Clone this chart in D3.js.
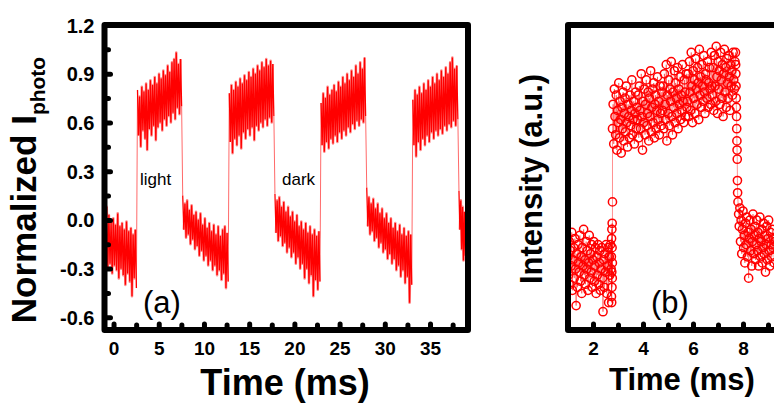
<!DOCTYPE html>
<html>
<head>
<meta charset="utf-8">
<script src="https://cdnjs.cloudflare.com/ajax/libs/d3/7.8.5/d3.min.js"></script>
<style>
  body { margin: 0; background: #fff; }
  svg { display: block; }
  text { font-family: "Liberation Sans", Arial, sans-serif; fill: #000; }
</style>
</head>
<body>
<div id="chart"></div>
<script>
// ---------- panel (a): photocurrent square wave ----------
// light / dark phases (ms) and the noise envelope
const phaseStart = [-1.0, 2.65, 7.65, 12.8, 17.85, 22.95, 28.0, 33.1, 38.2];
const phaseEnd   = [2.65, 7.65, 12.8, 17.85, 22.95, 28.0, 33.1, 38.2, 39.0];
const upperEnv = [
  [0.02, 0.08, 0.03, -0.01, 0.01, -0.03, 0.04, -0.04, -0.02, -0.06, -0.01, -0.07, -0.05, -0.09, -0.06],
  [0.80, 0.76, 0.82, 0.79, 0.84, 0.80, 0.86, 0.83, 0.88, 0.84, 0.90, 0.87, 0.92, 0.89, 0.95, 0.91, 0.97, 0.99, 1.03, 0.96, 0.99],
  [0.15, 0.10, 0.12, 0.06, 0.09, 0.03, 0.05, 0.00, 0.04, -0.03, 0.01, -0.05, -0.02, -0.07, -0.03, -0.09, -0.04, -0.10, -0.06, -0.04, -0.08],
  [0.78, 0.83, 0.80, 0.85, 0.82, 0.87, 0.84, 0.89, 0.86, 0.91, 0.88, 0.93, 0.90, 0.95, 0.92, 0.97, 0.94, 0.99, 0.95, 0.98, 0.96],
  [0.16, 0.12, 0.14, 0.08, 0.11, 0.05, 0.08, 0.02, 0.05, -0.01, 0.03, -0.04, -0.01, -0.06, -0.02, -0.08, -0.04, -0.09, -0.06, -0.10, -0.07],
  [0.72, 0.78, 0.75, 0.82, 0.77, 0.80, 0.83, 0.79, 0.85, 0.82, 0.88, 0.84, 0.90, 0.86, 0.92, 0.88, 0.95, 0.90, 0.97, 0.93, 1.00],
  [0.20, 0.14, 0.10, 0.13, 0.07, 0.10, 0.04, 0.07, 0.01, 0.04, -0.02, 0.01, -0.05, -0.02, -0.07, -0.03, -0.09, -0.05, -0.10, -0.07, -0.09],
  [0.74, 0.80, 0.77, 0.82, 0.78, 0.84, 0.80, 0.86, 0.82, 0.88, 0.84, 0.90, 0.86, 0.92, 0.88, 0.94, 0.90, 0.97, 1.00, 0.93, 0.95],
  [0.18, 0.12, 0.08, 0.05]
];
const lowerEnv = [
  [-0.25, -0.30, -0.27, -0.33, -0.28, -0.31, -0.36, -0.30, -0.34, -0.40, -0.33, -0.38, -0.47, -0.36, -0.42],
  [0.52, 0.45, 0.55, 0.50, 0.43, 0.56, 0.52, 0.58, 0.49, 0.57, 0.60, 0.55, 0.62, 0.58, 0.64, 0.60, 0.66, 0.62, 0.69, 0.65, 0.70],
  [-0.06, -0.11, -0.09, -0.15, -0.12, -0.18, -0.16, -0.22, -0.19, -0.25, -0.22, -0.28, -0.25, -0.31, -0.28, -0.34, -0.31, -0.37, -0.33, -0.42, -0.38],
  [0.48, 0.41, 0.50, 0.46, 0.52, 0.44, 0.54, 0.50, 0.56, 0.52, 0.57, 0.49, 0.58, 0.55, 0.60, 0.57, 0.62, 0.58, 0.63, 0.60, 0.64],
  [-0.08, -0.13, -0.10, -0.16, -0.14, -0.20, -0.17, -0.23, -0.20, -0.27, -0.23, -0.30, -0.27, -0.36, -0.30, -0.39, -0.34, -0.47, -0.37, -0.43, -0.38],
  [0.46, 0.42, 0.48, 0.44, 0.50, 0.47, 0.52, 0.48, 0.54, 0.50, 0.55, 0.52, 0.57, 0.54, 0.59, 0.56, 0.61, 0.58, 0.62, 0.60, 0.64],
  [-0.04, -0.09, -0.07, -0.13, -0.11, -0.17, -0.14, -0.20, -0.18, -0.24, -0.21, -0.27, -0.24, -0.31, -0.28, -0.35, -0.31, -0.39, -0.35, -0.51, -0.40],
  [0.46, 0.39, 0.48, 0.43, 0.50, 0.46, 0.52, 0.48, 0.54, 0.50, 0.55, 0.52, 0.56, 0.53, 0.58, 0.55, 0.59, 0.57, 0.61, 0.58, 0.62],
  [-0.06, -0.18, -0.25, -0.22]
];
const xTicksA = [0, 5, 10, 15, 20, 25, 30, 35];
const xMinorA = [2.5, 7.5, 12.5, 17.5, 22.5, 27.5, 32.5, 37.5];
const yTicksA = [-0.6, -0.3, 0.0, 0.3, 0.6, 0.9, 1.2];
const yMinorA = [-0.45, -0.15, 0.15, 0.45, 0.75, 1.05];

// ---------- panel (b): intensity, one on/off cycle ----------
const segStartB = [1.0, 2.735, 2.78, 7.70, 7.80];
const segStepB  = [0.025, 0.004, 0.025, 0.007, 0.025];
const lowOne = [0.24, 0.18, 0.29, 0.15, 0.26, 0.21, 0.32, 0.13, 0.23, 0.27, 0.17, 0.30, 0.20, 0.08, 0.25, 0.14, 0.28, 0.22, 0.19, 0.31,
  0.16, 0.24, 0.12, 0.27, 0.21, 0.33, 0.18, 0.23, 0.15, 0.29, 0.20, 0.26, 0.13, 0.22, 0.31, 0.17, 0.25, 0.19, 0.28, 0.14,
  0.23, 0.29, 0.16, 0.21, 0.27, 0.12, 0.24, 0.18, 0.28, 0.15, 0.22, 0.26, 0.13, 0.20, 0.27, 0.17, 0.06, 0.23, 0.14, 0.25,
  0.19, 0.28, 0.12, 0.21, 0.27, 0.09, 0.24, 0.18, 0.28, 0.20];
const riseVals = [0.24, 0.11, 0.30, 0.09, 0.19, 0.33, 0.14, 0.27, 0.35, 0.17, 0.22, 0.42];
const highOn = [
  0.66, 0.74, 0.61, 0.79, 0.70, 0.64, 0.77, 0.59, 0.72, 0.68, 0.81, 0.63, 0.75, 0.69, 0.58, 0.73, 0.66, 0.78, 0.62, 0.71,
  0.76, 0.65, 0.80, 0.68, 0.60, 0.74, 0.70, 0.63, 0.77, 0.67, 0.72, 0.82, 0.64, 0.69, 0.75, 0.61, 0.71, 0.78, 0.66, 0.73,
  0.69, 0.77, 0.63, 0.80, 0.72, 0.66, 0.84, 0.70, 0.59, 0.75, 0.68, 0.79, 0.64, 0.74, 0.82, 0.67, 0.71, 0.78, 0.62, 0.76,
  0.70, 0.85, 0.65, 0.73, 0.79, 0.68, 0.81, 0.63, 0.74, 0.77, 0.66, 0.72, 0.83, 0.69, 0.75, 0.64, 0.80, 0.71, 0.67, 0.78,
  0.72, 0.80, 0.66, 0.84, 0.74, 0.69, 0.87, 0.62, 0.77, 0.71, 0.82, 0.67, 0.79, 0.75, 0.88, 0.70, 0.64, 0.78, 0.73, 0.85,
  0.68, 0.81, 0.76, 0.71, 0.86, 0.66, 0.79, 0.74, 0.83, 0.69, 0.77, 0.72, 0.87, 0.75, 0.68, 0.82, 0.78, 0.70, 0.84, 0.73,
  0.75, 0.84, 0.70, 0.88, 0.78, 0.72, 0.91, 0.80, 0.68, 0.85, 0.76, 0.82, 0.71, 0.89, 0.79, 0.74, 0.86, 0.81, 0.69, 0.92,
  0.77, 0.83, 0.73, 0.87, 0.80, 0.75, 0.90, 0.78, 0.71, 0.84, 0.82, 0.76, 0.88, 0.73, 0.81, 0.86, 0.79, 0.74, 0.91, 0.80,
  0.77, 0.86, 0.72, 0.90, 0.80, 0.75, 0.93, 0.83, 0.71, 0.88, 0.79, 0.85, 0.74, 0.91, 0.82, 0.76, 0.87, 0.70, 0.84, 0.92,
  0.78, 0.86, 0.73, 0.89, 0.81, 0.76, 0.90, 0.83, 0.72, 0.87, 0.80, 0.85, 0.77, 0.91, 0.82, 0.79, 0.88];
const fallVals = [0.91, 0.87, 0.84, 0.80, 0.76, 0.73, 0.70, 0.66, 0.62, 0.59, 0.56, 0.49, 0.45];
const lowTwo = [0.42, 0.38, 0.34, 0.40, 0.29, 0.36, 0.25, 0.33, 0.39, 0.27, 0.31, 0.22, 0.35, 0.28, 0.37, 0.24, 0.32, 0.17, 0.30, 0.36,
  0.26, 0.33, 0.21, 0.29, 0.38, 0.25, 0.31, 0.34, 0.23, 0.28, 0.36, 0.26, 0.32, 0.21, 0.30, 0.37, 0.24, 0.29, 0.33, 0.22,
  0.27, 0.35, 0.25, 0.31, 0.19, 0.28, 0.34, 0.23, 0.30, 0.36, 0.26, 0.21, 0.32, 0.28, 0.24, 0.33, 0.27, 0.30, 0.22, 0.29];
const xTicksB = [2, 4, 6, 8];
const xMinorB = [1, 3, 5, 7, 9];

const width = 774, height = 403;
const red = "#ff0000";

const svg = d3.select("#chart").append("svg")
  .attr("width", width)
  .attr("height", height);

// helper for the thick Origin-style ticks (round "dots" pointing inward)
function styleTicks(g, w) {
  g.select(".domain").remove();
  g.selectAll(".tick line").attr("stroke", "#000").attr("stroke-width", w).attr("stroke-linecap", "round");
  g.selectAll(".tick text").attr("font-weight", "bold");
}

// ===== panel (a) =====
const xA = d3.scaleLinear().domain([-1, 39.2]).range([104.5, 468]);
const yA = d3.scaleLinear().domain([-0.678, 1.2]).range([330, 25]);

svg.append("clipPath").attr("id", "clipA")
  .append("rect").attr("x", xA(-1)).attr("y", yA(1.2))
  .attr("width", xA(39.2) - xA(-1)).attr("height", yA(-0.678) - yA(1.2));

// zig-zag between upper and lower envelope gives the dense noisy trace, one path per phase
const phasePts = phaseStart.map((s, p) => {
  const n = upperEnv[p].length;
  const dt = (phaseEnd[p] - s) / n;
  const pts = [];
  for (let i = 0; i < n; i++) {
    pts.push([s + i * dt, upperEnv[p][i]]);
    pts.push([s + (i + 0.5) * dt, lowerEnv[p][i]]);
  }
  return pts;
});
// thin switching edges joining one phase to the next
const edges = phasePts.slice(1).map((pts, p) => [phasePts[p][phasePts[p].length - 1], pts[0]]);

const lineA = d3.line().x(d => xA(d[0])).y(d => yA(d[1]));
const gA = svg.append("g").attr("clip-path", "url(#clipA)");

gA.selectAll("path.edge")
  .data(edges)
  .enter()
  .append("path")
  .attr("class", "edge")
  .attr("d", lineA)
  .attr("fill", "none")
  .attr("stroke", "#ff6a6a")
  .attr("stroke-width", 1);

// faint wide pass to close the gaps, then the crisp trace on top
gA.selectAll("path.halo")
  .data(phasePts)
  .enter()
  .append("path")
  .attr("class", "halo")
  .attr("d", d => lineA(d.slice(1, -1)))
  .attr("fill", "none")
  .attr("stroke", red)
  .attr("stroke-opacity", 0.45)
  .attr("stroke-width", 2.6)
  .attr("stroke-linejoin", "round");
gA.selectAll("path.trace")
  .data(phasePts)
  .enter()
  .append("path")
  .attr("class", "trace")
  .attr("d", lineA)
  .attr("fill", "none")
  .attr("stroke", red)
  .attr("stroke-width", 1.3)
  .attr("stroke-linejoin", "miter");

// axes (a)
const axA_left = svg.append("g").attr("transform", `translate(${xA(-1)},0)`)
  .call(d3.axisLeft(yA).tickValues(yTicksA).tickSizeInner(-6).tickSizeOuter(0).tickPadding(10)
    .tickFormat(d => d.toFixed(1)));
styleTicks(axA_left, 5);
axA_left.selectAll(".tick text").attr("font-size", 20).attr("x", -10).attr("dy", "0.35em");
axA_left.selectAll(".tick line").attr("x1", 2);

const axA_leftMinor = svg.append("g").attr("transform", `translate(${xA(-1)},0)`)
  .call(d3.axisLeft(yA).tickValues(yMinorA).tickSizeInner(-4).tickSizeOuter(0).tickFormat(""));
styleTicks(axA_leftMinor, 5);
axA_leftMinor.selectAll(".tick line").attr("x1", 2);

const axA_bottom = svg.append("g").attr("transform", `translate(0,${yA(-0.678)})`)
  .call(d3.axisBottom(xA).tickValues(xTicksA).tickSizeInner(-6).tickSizeOuter(0).tickPadding(12)
    .tickFormat(d3.format("d")));
styleTicks(axA_bottom, 5);
axA_bottom.selectAll(".tick text").attr("font-size", 19);
axA_bottom.selectAll(".tick line").attr("y1", -2);

const axA_bottomMinor = svg.append("g").attr("transform", `translate(0,${yA(-0.678)})`)
  .call(d3.axisBottom(xA).tickValues(xMinorA).tickSizeInner(-5).tickSizeOuter(0).tickFormat(""));
styleTicks(axA_bottomMinor, 5);
axA_bottomMinor.selectAll(".tick line").attr("y1", -2);

// frame (a)
svg.append("rect")
  .attr("x", xA(-1)).attr("y", yA(1.2))
  .attr("width", xA(39.2) - xA(-1)).attr("height", yA(-0.678) - yA(1.2))
  .attr("fill", "none").attr("stroke", "#000").attr("stroke-width", 6)
  .attr("stroke-linejoin", "round");

// labels (a)
const ylabA = svg.append("text")
  .attr("transform", `translate(36,${190}) rotate(-90)`)
  .attr("text-anchor", "middle")
  .attr("font-weight", "bold")
  .attr("font-size", 35);
ylabA.append("tspan").text("Normalized I");
ylabA.append("tspan").attr("font-size", 21).attr("dy", 9).text("photo");

svg.append("text").attr("x", 285).attr("y", 395)
  .attr("text-anchor", "middle").attr("font-weight", "bold").attr("font-size", 36)
  .text("Time (ms)");

svg.append("text").attr("x", 162).attr("y", 313).attr("text-anchor", "middle")
  .attr("font-size", 31).text("(a)");
svg.append("text").attr("x", 140).attr("y", 185).attr("font-size", 17).text("light");
svg.append("text").attr("x", 282).attr("y", 185).attr("font-size", 17).text("dark");

// ===== panel (b) =====
const xB = d3.scaleLinear().domain([1, 10]).range([568, 793]);
const yB = d3.scaleLinear().domain([0, 1]).range([330, 25]);

svg.append("clipPath").attr("id", "clipB")
  .append("rect").attr("x", xB(1)).attr("y", yB(1))
  .attr("width", xB(10) - xB(1)).attr("height", yB(0) - yB(1));

const seriesB = [lowOne, riseVals, highOn, fallVals, lowTwo];
const ptsB = [];
seriesB.forEach((vals, k) => {
  vals.forEach((v, i) => ptsB.push([segStartB[k] + i * segStepB[k], v]));
});

const gB = svg.append("g").attr("clip-path", "url(#clipB)");
gB.append("path")
  .datum(ptsB)
  .attr("d", d3.line().x(d => xB(d[0])).y(d => yB(d[1])))
  .attr("fill", "none")
  .attr("stroke", red)
  .attr("stroke-opacity", 0.55)
  .attr("stroke-width", 0.8);
gB.selectAll("circle")
  .data(ptsB)
  .enter()
  .append("circle")
  .attr("cx", d => xB(d[0]))
  .attr("cy", d => yB(d[1]))
  .attr("r", 4.1)
  .attr("fill", "none")
  .attr("stroke", red)
  .attr("stroke-width", 1.5);

const axB_bottom = svg.append("g").attr("transform", `translate(0,${yB(0)})`)
  .call(d3.axisBottom(xB).tickValues(xTicksB).tickSizeInner(-6).tickSizeOuter(0).tickPadding(12)
    .tickFormat(d3.format("d")));
styleTicks(axB_bottom, 5);
axB_bottom.selectAll(".tick text").attr("font-size", 19);
axB_bottom.selectAll(".tick line").attr("y1", -2);

const axB_bottomMinor = svg.append("g").attr("transform", `translate(0,${yB(0)})`)
  .call(d3.axisBottom(xB).tickValues(xMinorB).tickSizeInner(-5).tickSizeOuter(0).tickFormat(""));
styleTicks(axB_bottomMinor, 5);
axB_bottomMinor.selectAll(".tick line").attr("y1", -2);

svg.append("rect")
  .attr("x", xB(1)).attr("y", yB(1))
  .attr("width", xB(10) - xB(1)).attr("height", yB(0) - yB(1))
  .attr("fill", "none").attr("stroke", "#000").attr("stroke-width", 6)
  .attr("stroke-linejoin", "round");

svg.append("text")
  .attr("transform", `translate(542,${179}) rotate(-90)`)
  .attr("text-anchor", "middle")
  .attr("font-weight", "bold")
  .attr("font-size", 31)
  .text("Intensity (a.u.)");

svg.append("text").attr("x", 682).attr("y", 390)
  .attr("text-anchor", "middle").attr("font-weight", "bold").attr("font-size", 31)
  .text("Time (ms)");

svg.append("text").attr("x", 670).attr("y", 313).attr("text-anchor", "middle")
  .attr("font-size", 31).text("(b)");
</script>
</body>
</html>
